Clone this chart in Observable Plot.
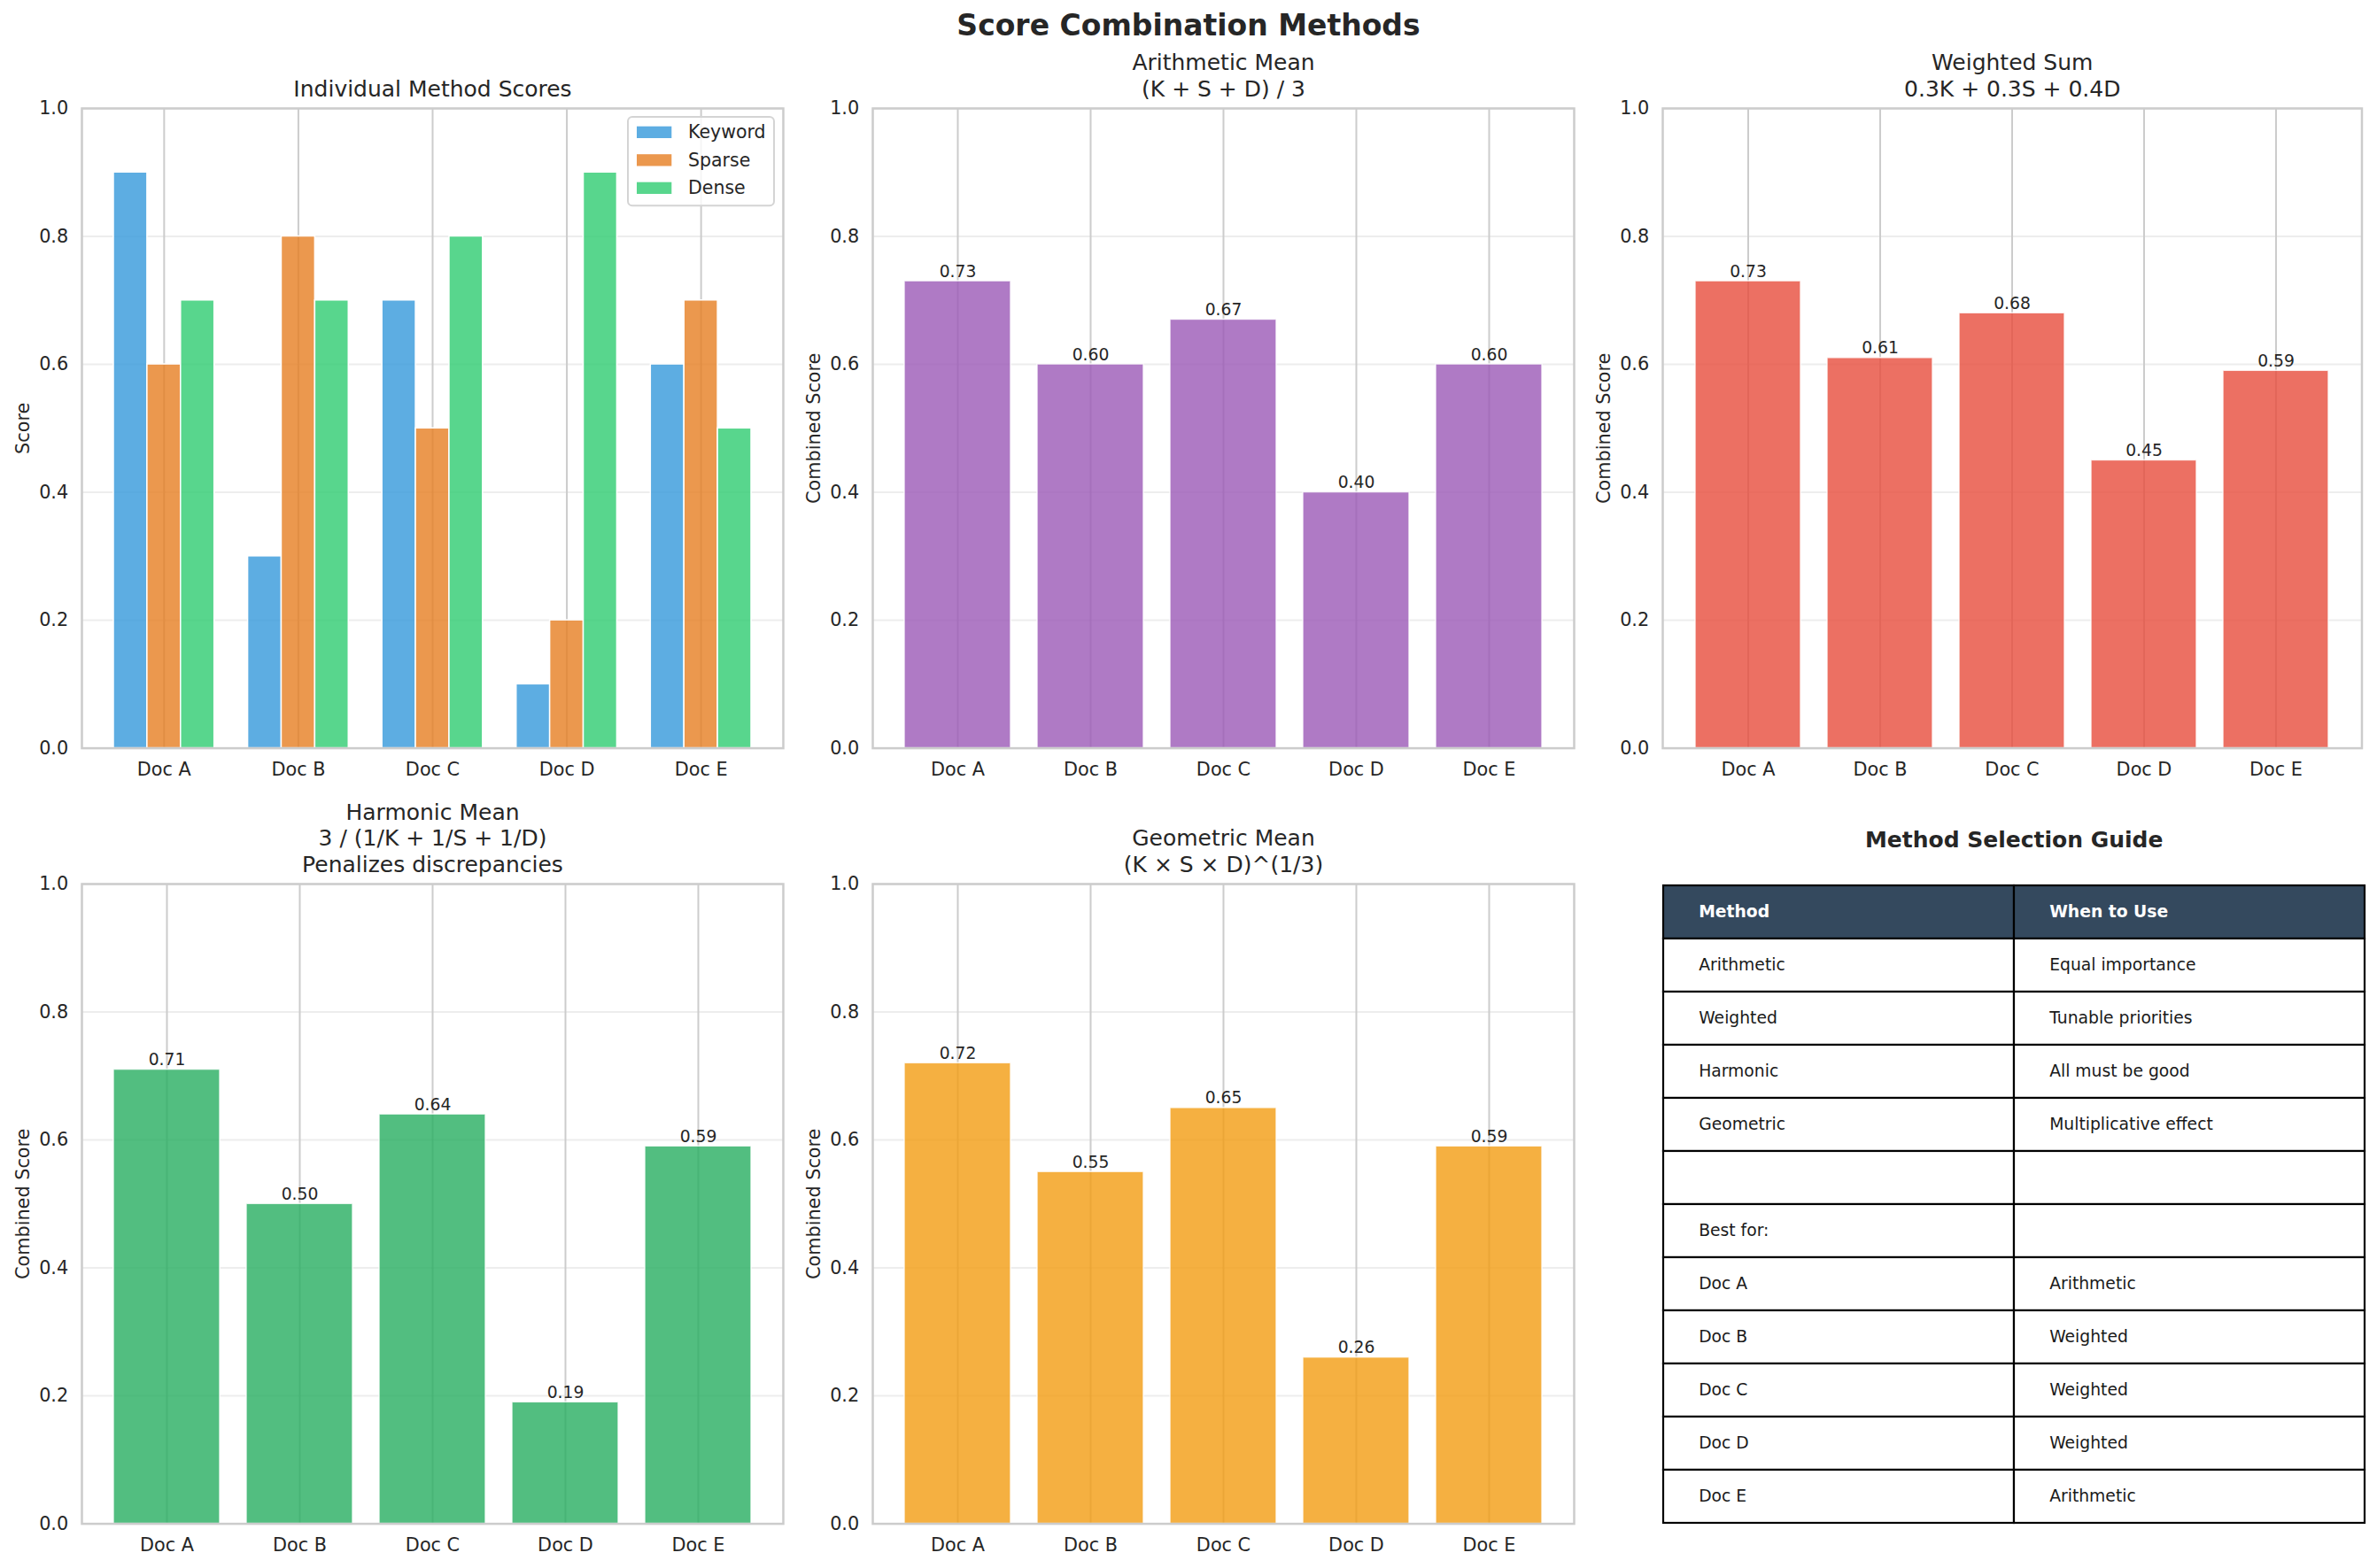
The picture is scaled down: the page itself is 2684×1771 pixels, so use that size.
<!DOCTYPE html>
<html>
<head>
<meta charset="utf-8">
<script src="https://cdn.jsdelivr.net/npm/d3@7"></script>
<script src="https://cdn.jsdelivr.net/npm/@observablehq/plot@0.6"></script>
<style>
  html, body { margin: 0; padding: 0; background: #ffffff; }
  #fig { position: relative; width: 2684px; height: 1771px; background: #ffffff; overflow: hidden;
         font-family: "DejaVu Sans", sans-serif; color: #262626; }
</style>
</head>
<body>
<div id="fig"></div>
<script>
// ---- data -------------------------------------------------------------
const docs = ["Doc A", "Doc B", "Doc C", "Doc D", "Doc E"];
const methods = ["Keyword", "Sparse", "Dense"];

const keywordScores = [0.9, 0.3, 0.7, 0.1, 0.6];
const sparseScores  = [0.6, 0.8, 0.5, 0.2, 0.7];
const denseScores   = [0.7, 0.7, 0.8, 0.9, 0.5];

const arithmeticScores = [0.73, 0.60, 0.67, 0.40, 0.60];
const weightedScores   = [0.73, 0.61, 0.68, 0.45, 0.59];
const harmonicScores   = [0.71, 0.50, 0.64, 0.19, 0.59];
const geometricScores  = [0.72, 0.55, 0.65, 0.26, 0.59];

const yTicks = [0, 0.2, 0.4, 0.6, 0.8, 1.0];

const guideHeader  = ["Method", "When to Use"];
const guideMethods = ["Arithmetic", "Weighted", "Harmonic", "Geometric"];
const guideUses    = ["Equal importance", "Tunable priorities", "All must be good", "Multiplicative effect"];
const bestForLabel = "Best for:";
const bestMethod   = ["Arithmetic", "Weighted", "Weighted", "Weighted", "Arithmetic"];

// ---- styling ----------------------------------------------------------
const INK = "#262626";
const FONT = "DejaVu Sans, sans-serif";
const methodColors = ["#3498db", "#e67e22", "#2ecc71"];

// plot-area edges of the 2 x 3 grid
const COLS = [{left: 92, right: 884}, {left: 984.5, right: 1776.5}, {left: 1877, right: 2666.5}];
const ROWS = [{top: 121.7, bottom: 844.3}, {top: 998, bottom: 1720.6}];
const M = {left: 92, right: 14, top: 110, bottom: 48};

const STYLE = {fontFamily: FONT, fontSize: "20.8px", color: INK, background: "none", overflow: "visible"};
const X_AXIS = {tickSize: 0, tickPadding: 15.7, label: null};
const Y_AXIS = {ticks: yTicks, tickFormat: ".1f", tickSize: 0, tickPadding: 15.3, label: null};
const HGRID = {stroke: "#cccccc", strokeOpacity: 0.35, strokeWidth: 2};
const VGRID = {stroke: "#cccccc", strokeWidth: 2};
const FRAME = {stroke: "#cccccc", strokeWidth: 2.5};

const fig = document.getElementById("fig");

function mount(node, left, top) {
  node.style.position = "absolute";
  node.style.left = left + "px";
  node.style.top = top + "px";
  fig.appendChild(node);
}

function titleMark(t) {
  return Plot.text([t], {frameAnchor: "top", text: d => d, lineAnchor: "bottom", dy: -13.4,
                         fontSize: 25, lineHeight: 1.19, fill: INK});
}

function ylabelMark(t) {
  return Plot.text([t], {frameAnchor: "left", text: d => d, rotate: -90, dx: -59.7,
                         lineAnchor: "bottom", textAnchor: "middle", fontSize: 20.8, fill: INK});
}

function frameSize(c, r) {
  return {
    width: c.right - c.left + M.left + M.right,
    height: r.bottom - r.top + M.top + M.bottom,
    marginLeft: M.left, marginRight: M.right, marginTop: M.top, marginBottom: M.bottom
  };
}

// ---- panel 1: grouped bars of the individual scores --------------------
const seriesByMethod = [keywordScores, sparseScores, denseScores];
const individual = docs.flatMap((doc, i) =>
  methods.map((method, m) => ({doc, i, method, m, score: seriesByMethod[m][i]})));
const groupWidth = 0.25;
const docIndex = docs.map((d, i) => i);

const individualChart = Plot.plot({
  ...frameSize(COLS[0], ROWS[0]),
  style: STYLE,
  x: {type: "linear", domain: [-0.6125, 4.6125], ticks: docIndex, tickFormat: i => docs[i], ...X_AXIS},
  y: {domain: [0, 1], ...Y_AXIS},
  color: {domain: methods, range: methodColors},
  marks: [
    Plot.ruleY(yTicks, HGRID),
    Plot.ruleX(docIndex, VGRID),
    Plot.rectY(individual, {
      x1: d => d.i + (d.m - 1) * groupWidth - groupWidth / 2,
      x2: d => d.i + (d.m - 1) * groupWidth + groupWidth / 2,
      y1: 0, y2: "score", fill: "method", fillOpacity: 0.8,
      stroke: "white", strokeWidth: 1.5, inset: 0
    }),
    titleMark("Individual Method Scores"),
    ylabelMark("Score"),
    Plot.frame(FRAME)
  ]
});
mount(individualChart, COLS[0].left - M.left, ROWS[0].top - M.top);

// ---- panels 2-5: one combined score per document -----------------------
function combinedPanel(col, row, title, values, color) {
  const c = COLS[col], r = ROWS[row];
  const data = docs.map((doc, i) => ({doc, value: values[i]}));
  const chart = Plot.plot({
    ...frameSize(c, r),
    style: STYLE,
    x: {domain: docs, paddingInner: 0.2, paddingOuter: 0.24, ...X_AXIS},
    y: {domain: [0, 1], ...Y_AXIS},
    marks: [
      Plot.ruleY(yTicks, HGRID),
      Plot.ruleX(docs, VGRID),
      Plot.barY(data, {x: "doc", y1: 0, y2: "value", fill: color, fillOpacity: 0.8,
                       stroke: "white", strokeWidth: 1.5, strokeOpacity: 0.8, inset: 0}),
      Plot.text(data, {x: "doc", y: "value", text: d => d.value.toFixed(2), lineAnchor: "bottom",
                       dy: -5, fontSize: 18.75, fill: INK}),
      titleMark(title),
      ylabelMark("Combined Score"),
      Plot.frame(FRAME)
    ]
  });
  mount(chart, c.left - M.left, r.top - M.top);
}

combinedPanel(1, 0, "Arithmetic Mean\n(K + S + D) / 3", arithmeticScores, "#9b59b6");
combinedPanel(2, 0, "Weighted Sum\n0.3K + 0.3S + 0.4D", weightedScores, "#e74c3c");
combinedPanel(0, 1, "Harmonic Mean\n3 / (1/K + 1/S + 1/D)\nPenalizes discrepancies", harmonicScores, "#27ae60");
combinedPanel(1, 1, "Geometric Mean\n(K \u00d7 S \u00d7 D)^(1/3)", geometricScores, "#f39c12");

// ---- panel 6: method selection guide table -----------------------------
const tableRows = [
  guideHeader,
  ...guideMethods.map((m, i) => [m, guideUses[i]]),
  ["", ""],
  [bestForLabel, ""],
  ...docs.map((d, i) => [d, bestMethod[i]])
];
const cells = tableRows.flatMap((r, ri) =>
  r.map((text, ci) => ({row: ri, col: ci, text, kind: ri === 0 ? "header" : "body"})));

const T = {left: 1876.7, right: 2670, top: 997.7, bottom: 1720.7, pad: 4, titleSpace: 70};
const tableWidth = T.right - T.left;
const colWidth = tableWidth / guideHeader.length;

const tableChart = Plot.plot({
  width: tableWidth + 2 * T.pad,
  height: T.bottom - T.top + T.titleSpace + T.pad,
  marginLeft: T.pad, marginRight: T.pad, marginTop: T.titleSpace, marginBottom: T.pad,
  style: STYLE,
  x: {type: "band", domain: [0, 1], padding: 0, axis: null},
  y: {type: "band", domain: d3.range(tableRows.length), padding: 0, axis: null},
  color: {domain: ["header", "body"], range: ["#34495e", "#ffffff"]},
  marks: [
    Plot.cell(cells, {x: "col", y: "row", fill: "kind", stroke: "black", strokeWidth: 2.2, inset: 0}),
    Plot.text(cells.filter(d => d.kind === "header"), {
      x: "col", y: "row", text: "text", textAnchor: "start", dx: -colWidth / 2 + 40,
      fontSize: 18.75, fontWeight: "bold", fill: "white"
    }),
    Plot.text(cells.filter(d => d.kind === "body" && d.text), {
      x: "col", y: "row", text: "text", textAnchor: "start", dx: -colWidth / 2 + 40,
      fontSize: 18.75, fill: "#1a1a1a"
    }),
    Plot.text(["Method Selection Guide"], {
      frameAnchor: "top", text: d => d, lineAnchor: "bottom", dy: -41,
      fontSize: 25, fontWeight: "bold", fill: INK
    })
  ]
});
mount(tableChart, T.left - T.pad, T.top - T.titleSpace);

// ---- figure title and legend -------------------------------------------
const overlay = d3.create("svg")
  .attr("width", 2684).attr("height", 1771)
  .style("position", "absolute").style("left", "0px").style("top", "0px")
  .style("pointer-events", "none")
  .attr("font-family", FONT);

overlay.append("text")
  .attr("x", 1342).attr("y", 39.5)
  .attr("text-anchor", "middle")
  .attr("font-size", 33).attr("font-weight", "bold").attr("fill", INK)
  .text("Score Combination Methods");

const colorScale = individualChart.scale("color");
const legend = overlay.append("g");
legend.append("rect")
  .attr("x", 709).attr("y", 132).attr("width", 165).attr("height", 100.3).attr("rx", 5)
  .attr("fill", "white").attr("fill-opacity", 0.8)
  .attr("stroke", "#d4d4d4").attr("stroke-width", 2);
const legendBaselines = [156, 187.5, 219];
methods.forEach((m, k) => {
  legend.append("rect")
    .attr("x", 719).attr("y", legendBaselines[k] - 13.3).attr("width", 39.3).attr("height", 13.3)
    .attr("fill", colorScale.apply(m)).attr("fill-opacity", 0.8);
  legend.append("text")
    .attr("x", 777).attr("y", legendBaselines[k])
    .attr("font-size", 20.5).attr("fill", INK)
    .text(m);
});

fig.appendChild(overlay.node());
</script>
</body>
</html>
